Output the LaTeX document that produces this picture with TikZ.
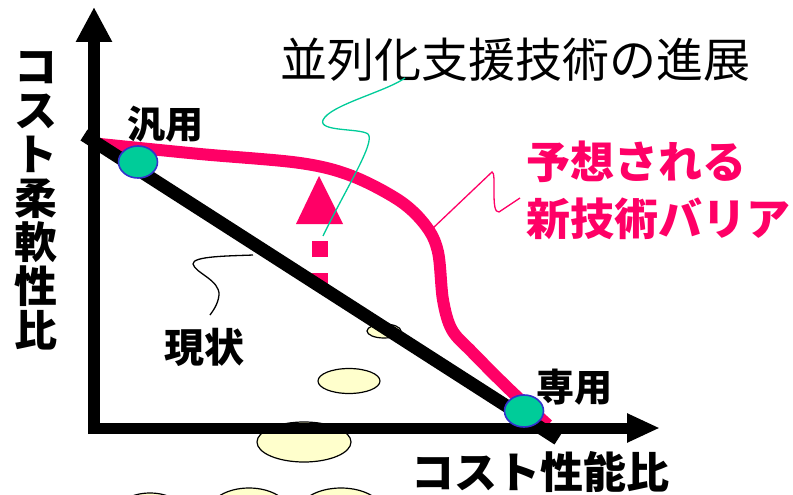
\documentclass[tikz,border=0pt]{standalone}
\usepackage{fontspec}
\usetikzlibrary{arrows.meta,shapes.geometric}
\newfontfamily\jp{Noto Sans CJK JP}
\definecolor{barpink}{HTML}{FF0066}
\definecolor{tealc}{HTML}{00CC99}
\definecolor{rimblue}{HTML}{3333CC}
\definecolor{paleyel}{HTML}{FFFFCC}
\begin{document}
\begin{tikzpicture}[x=1pt,y=-1pt,
  axisline/.style={line width=12pt,black},
  pointmark/.style={ellipse,draw=rimblue,fill=tealc,line width=1.6pt,inner sep=0pt,minimum width=39pt,minimum height=32pt},
  backblob/.style={fill=paleyel,draw=black,line width=1.2pt},
  labeltext/.style={font=\jp\bfseries\fontsize{38}{40}\selectfont,inner sep=0pt},
  axislabel/.style={font=\jp\bfseries\fontsize{43}{44}\selectfont,inner sep=0pt,align=center},
  thinlink/.style={line width=1.3pt}]
\useasboundingbox (0,0) rectangle (793,495);
\fill[white] (0,0) rectangle (793,495);
% pale background blobs
\filldraw[backblob] (304,442) ellipse [x radius=47,y radius=20];
\filldraw[backblob] (349,381) ellipse [x radius=31,y radius=12.5];
\filldraw[backblob] (384,331) ellipse [x radius=17,y radius=7];
\filldraw[backblob] (150,516) ellipse [x radius=36,y radius=23];
\filldraw[backblob] (249,512) ellipse [x radius=40,y radius=24];
\filldraw[backblob] (341,512) ellipse [x radius=42,y radius=24];
% pink dashed arrow
\draw[barpink,line width=16pt,dash pattern=on 16pt off 16pt] (320,289) -- (320,225);
\fill[barpink] (296,224) -- (343,224) -- (319,176) -- cycle;
% pink barrier curve
\draw[barpink,line width=12pt,line join=round] plot[smooth,tension=0.55] coordinates
  {(100,144) (200,154) (300,163) (352,176) (400,201) (426,226) (438,252) (443,300) (452,330) (472,352) (510,390) (548,425)};
% axes
\draw[axisline,-{Triangle[width=34pt,length=35pt]}] (94,434) -- (94,7);
\draw[axisline,line width=11pt,-{Triangle[width=27pt,length=33pt]}] (88,428) -- (660,428);
% current line
\draw[line width=13pt,black] (84,135) -- (558,439);
% points
\node[pointmark] (gen) at (138,162) {};
\node[pointmark] (ded) at (524,411) {};
% labels
\node[labeltext] (genlabel) at (165,124) {汎用};
\node[labeltext] (dedlabel) at (574,387) {専用};
\node[labeltext,font=\jp\bfseries\fontsize{40}{42}\selectfont] (nowlabel) at (204,347) {現状};
\node[font=\jp\fontsize{47}{48}\selectfont,inner sep=0pt] (title) at (515,60) {並列化支援技術の進展};
\node[font=\jp\bfseries\fontsize{44}{57}\selectfont,text=barpink,inner sep=0pt,align=left,anchor=west] (barrier) at (526,190) {予想される\\新技術バリア};
% axis labels
\node[axislabel] (ylabel) at (36,201) {コ\\ス\\ト\\柔\\軟\\性\\比};
\node[axislabel] (xlabel) at (540,472) {コスト性能比};
% connectors
\coordinate (tealend) at (323,236);
\coordinate (tealstart) at (405,78);
\draw[tealc,thinlink] (tealstart) .. controls (385,92) and (330,105) .. (323,120)
  .. controls (318,132) and (360,128) .. (368,134)
  .. controls (376,142) and (345,190) .. (tealend);
\coordinate (pinkstart) at (520,198);
\coordinate (pinkend) at (432,229);
\draw[barpink,thinlink] (pinkstart) -- (499,212) .. controls (490,214) and (497,172) .. (492,172)
  -- (pinkend);
\coordinate (nowstart) at (253,255);
\coordinate (nowend) at (210,315);
\draw[black,thinlink] (nowstart) .. controls (230,256) and (192,256) .. (193,264)
  .. controls (195,273) and (220,280) .. (219,295) .. controls (218,305) and (212,312) .. (nowend);
\end{tikzpicture}
\end{document}
